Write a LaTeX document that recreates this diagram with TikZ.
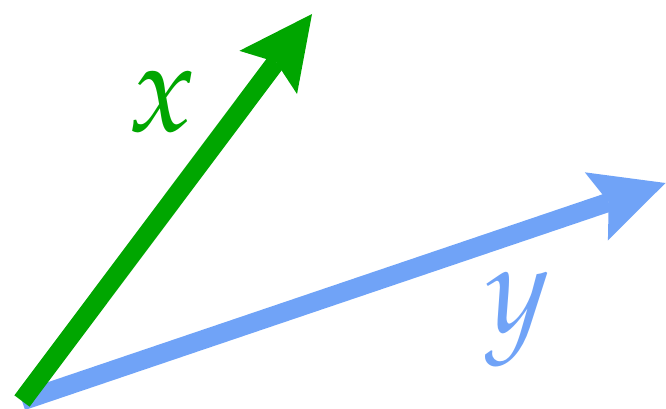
\documentclass[tikz,border=0pt]{standalone}
\usepackage{mathpazo}
\usetikzlibrary{arrows.meta}
\definecolor{vgreen}{RGB}{0,166,0}
\definecolor{vblue}{RGB}{112,163,247}
\begin{document}
\begin{tikzpicture}[x=1pt,y=-1pt,
  vec/.style={line width=19pt,-{Stealth[length=73pt,width=72pt,inset=13pt,line width=0pt]}},
  lab/.style={inner sep=0pt,font=\fontsize{125}{125}\selectfont}]
\useasboundingbox (0,0) rectangle (666,409);
\coordinate (O) at (22,401);
\coordinate (X) at (312,14);
\coordinate (Y) at (665.5,183);
\draw[vec,vblue] (O) -- (Y);
\draw[vec,vgreen] (O) -- (X);
\node[lab,text=vgreen] (lx) at (162,102) {$x$};
\node[lab,text=vblue] (ly) at (518,320) {$y$};
\end{tikzpicture}
\end{document}
